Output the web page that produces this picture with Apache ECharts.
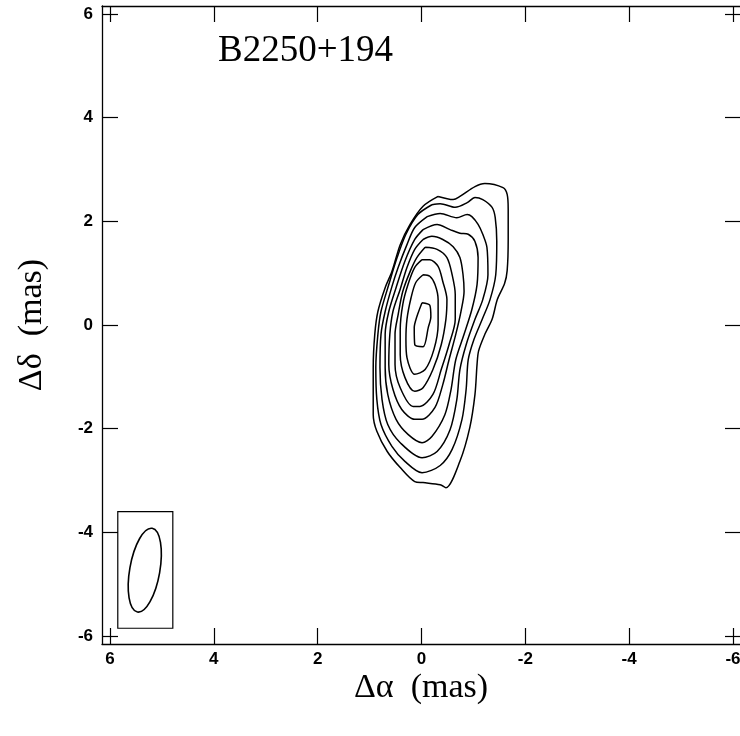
<!DOCTYPE html>
<html>
<head>
<meta charset="utf-8">
<script src="https://cdn.jsdelivr.net/npm/echarts@6/dist/echarts.min.js"></script>
<style>
html,body{margin:0;padding:0;background:#fff;}
#chart{width:740px;height:736px;}
</style>
</head>
<body>
<div id="chart"></div>
<script>
// Tick values (mas)
var xTicks = [-6, -4, -2, 0, 2, 4, 6];
var yTicks = [-6, -4, -2, 0, 2, 4, 6];

// Contour levels, outer (c1) to inner (c9): [RA offset, Dec offset] in mas
var c1 = [[-0.32,2.48],[-0.61,2.42],[-0.74,2.48],[-1.03,2.67],[-1.22,2.73],[-1.57,2.65],[-1.65,2.52],[-1.67,2.23],[-1.67,1.65],[-1.65,1.05],[-1.60,0.80],[-1.46,0.49],[-1.36,0.11],[-1.22,-0.18],[-1.10,-0.50],[-1.07,-0.76],[-1.03,-1.34],[-0.93,-1.98],[-0.74,-2.63],[-0.47,-3.14],[-0.36,-3.08],[-0.03,-3.04],[0.13,-3.02],[0.41,-2.75],[0.66,-2.44],[0.86,-2.05],[0.93,-1.73],[0.93,-1.34],[0.93,-0.82],[0.90,-0.18],[0.84,0.26],[0.70,0.72],[0.57,1.03],[0.41,1.55],[0.22,1.94],[-0.03,2.29],[-0.32,2.48]];
var c2 = [[-0.20,2.32],[-0.36,2.34],[-0.65,2.27],[-0.88,2.36],[-1.03,2.46],[-1.18,2.42],[-1.36,2.27],[-1.42,2.07],[-1.45,1.61],[-1.43,0.97],[-1.32,0.49],[-1.17,0.11],[-1.01,-0.28],[-0.90,-0.67],[-0.86,-1.24],[-0.78,-1.82],[-0.59,-2.40],[-0.36,-2.71],[-0.01,-2.85],[0.32,-2.63],[0.57,-2.34],[0.78,-1.92],[0.86,-1.44],[0.88,-0.82],[0.84,-0.18],[0.78,0.26],[0.63,0.78],[0.47,1.30],[0.30,1.75],[0.07,2.13],[-0.20,2.32]];
var c3 = [[-0.11,2.09],[-0.36,2.15],[-0.68,2.07],[-0.88,2.13],[-0.97,2.09],[-1.09,1.94],[-1.18,1.75],[-1.26,1.50],[-1.28,0.97],[-1.18,0.49],[-1.03,0.11],[-0.86,-0.38],[-0.74,-0.86],[-0.68,-1.44],[-0.55,-2.02],[-0.30,-2.44],[-0.01,-2.56],[0.41,-2.27],[0.65,-1.92],[0.76,-1.44],[0.80,-0.82],[0.78,-0.18],[0.70,0.26],[0.57,0.74],[0.45,1.11],[0.28,1.55],[0.13,1.88],[-0.11,2.09]];
var c4 = [[-0.03,1.84],[-0.30,1.94],[-0.55,1.84],[-0.74,1.77],[-0.90,1.75],[-1.03,1.61],[-1.09,1.30],[-1.07,0.78],[-0.97,0.30],[-0.82,-0.18],[-0.66,-0.67],[-0.57,-1.24],[-0.45,-1.73],[-0.20,-2.15],[-0.01,-2.27],[0.26,-2.11],[0.49,-1.82],[0.65,-1.34],[0.70,-0.82],[0.70,-0.18],[0.63,0.26],[0.49,0.72],[0.32,1.23],[0.13,1.65],[-0.03,1.84]];
var c5 = [[-0.03,1.65],[-0.20,1.71],[-0.41,1.65],[-0.61,1.51],[-0.74,1.30],[-0.80,0.97],[-0.82,0.65],[-0.76,0.26],[-0.66,-0.18],[-0.53,-0.67],[-0.41,-1.15],[-0.26,-1.59],[-0.01,-1.82],[0.13,-1.82],[0.38,-1.63],[0.55,-1.24],[0.63,-0.76],[0.61,-0.18],[0.55,0.26],[0.41,0.69],[0.28,1.11],[0.13,1.46],[-0.03,1.65]];
var c6 = [[-0.07,1.50],[-0.30,1.46],[-0.49,1.30],[-0.59,0.97],[-0.65,0.59],[-0.65,0.11],[-0.53,-0.38],[-0.38,-0.86],[-0.22,-1.34],[0.03,-1.57],[0.16,-1.57],[0.41,-1.21],[0.51,-0.76],[0.51,-0.18],[0.45,0.20],[0.36,0.65],[0.22,1.03],[0.09,1.30],[-0.07,1.50]];
var c7 = [[-0.01,1.26],[-0.16,1.26],[-0.32,1.13],[-0.41,0.84],[-0.49,0.49],[-0.47,0.11],[-0.38,-0.38],[-0.22,-0.86],[-0.03,-1.21],[0.13,-1.28],[0.32,-1.01],[0.41,-0.57],[0.41,-0.09],[0.36,0.40],[0.26,0.78],[0.13,1.11],[-0.01,1.26]];
var c8 = [[-0.03,0.97],[-0.16,0.94],[-0.26,0.78],[-0.32,0.49],[-0.32,0.01],[-0.24,-0.47],[-0.07,-0.86],[0.13,-0.95],[0.28,-0.63],[0.30,-0.28],[0.28,0.11],[0.20,0.53],[0.11,0.82],[-0.03,0.97]];
var c9 = [[-0.01,0.43],[-0.16,0.38],[-0.18,0.16],[-0.13,-0.05],[-0.03,-0.42],[0.13,-0.38],[0.14,-0.05],[0.09,0.16],[-0.01,0.43]];
var contours = [c1, c2, c3, c4, c5, c6, c7, c8, c9];

// Restoring beam (mas): box corners, ellipse centre, semi-axes [major, minor], position angle (deg)
var beamBox = [[5.85, -3.60], [4.79, -5.85]];
var beamCenter = [5.33, -4.73];
var beamAxes = [0.82, 0.29];
var beamPA = -10;

var chart = echarts.init(document.getElementById('chart'), null, {renderer: 'canvas'});

var AX = 6.154;
function axisCommon(pos, showLabels, isX) {
  return {
    type: 'value', position: pos, min: -AX, max: AX,
    inverse: isX,
    axisLine: {show: true, onZero: false, lineStyle: {color: '#000', width: 1.3}},
    axisTick: {show: true, inside: true, length: 16, customValues: isX ? xTicks : yTicks,
      lineStyle: {color: '#000', width: 1.2}},
    axisLabel: {show: showLabels, customValues: isX ? xTicks : yTicks, color: '#000',
      fontFamily: 'Liberation Sans, Arial, sans-serif', fontWeight: 'bold', fontSize: 17,
      margin: isX ? 7 : 9},
    splitLine: {show: false}
  };
}

var series = contours.map(function (c) {
  return {
    type: 'line', data: c, symbol: 'none', showSymbol: false, smooth: 0.3,
    lineStyle: {color: '#000', width: 1.5}, silent: true, z: 3
  };
});

series.push({
  type: 'custom', silent: true, z: 4,
  data: [[beamCenter[0], beamCenter[1]]],
  renderItem: function (params, api) {
    var p1 = api.coord(beamBox[0]);
    var p2 = api.coord(beamBox[1]);
    var c = api.coord(beamCenter);
    var ry = api.size([0, beamAxes[0]])[1];
    var rx = api.size([beamAxes[1], 0])[0];
    return {
      type: 'group',
      children: [
        {type: 'rect', shape: {x: Math.min(p1[0], p2[0]), y: Math.min(p1[1], p2[1]),
          width: Math.abs(p2[0] - p1[0]), height: Math.abs(p2[1] - p1[1])},
          style: {fill: 'none', stroke: '#000', lineWidth: 1.2}},
        {type: 'ellipse', shape: {cx: 0, cy: 0, rx: rx, ry: ry},
          x: c[0], y: c[1], rotation: beamPA * Math.PI / 180,
          style: {fill: 'none', stroke: '#000', lineWidth: 1.6}}
      ]
    };
  }
});

chart.setOption({
  animation: false,
  backgroundColor: '#fff',
  grid: {left: 102, top: 6, width: 639, height: 638, containLabel: false, outerBoundsMode: 'none'},
  xAxis: [axisCommon('bottom', true, true), axisCommon('top', false, true)],
  yAxis: [axisCommon('left', true, false), axisCommon('right', false, false)],
  series: series,
  graphic: [
    {type: 'text', left: 218, top: 33, style: {text: 'B2250+194', font: '37px "Liberation Serif", "Times New Roman", serif', fill: '#000'}},
    {type: 'text', x: 421, y: 688, style: {text: 'Δα  (mas)', font: '34px "Liberation Serif", "Times New Roman", serif', fill: '#000', align: 'center', verticalAlign: 'middle'}},
    {type: 'text', x: 32, y: 325, rotation: Math.PI / 2, style: {text: 'Δδ  (mas)', font: '34px "Liberation Serif", "Times New Roman", serif', fill: '#000', align: 'center', verticalAlign: 'middle'}}
  ]
});
</script>
</body>
</html>
